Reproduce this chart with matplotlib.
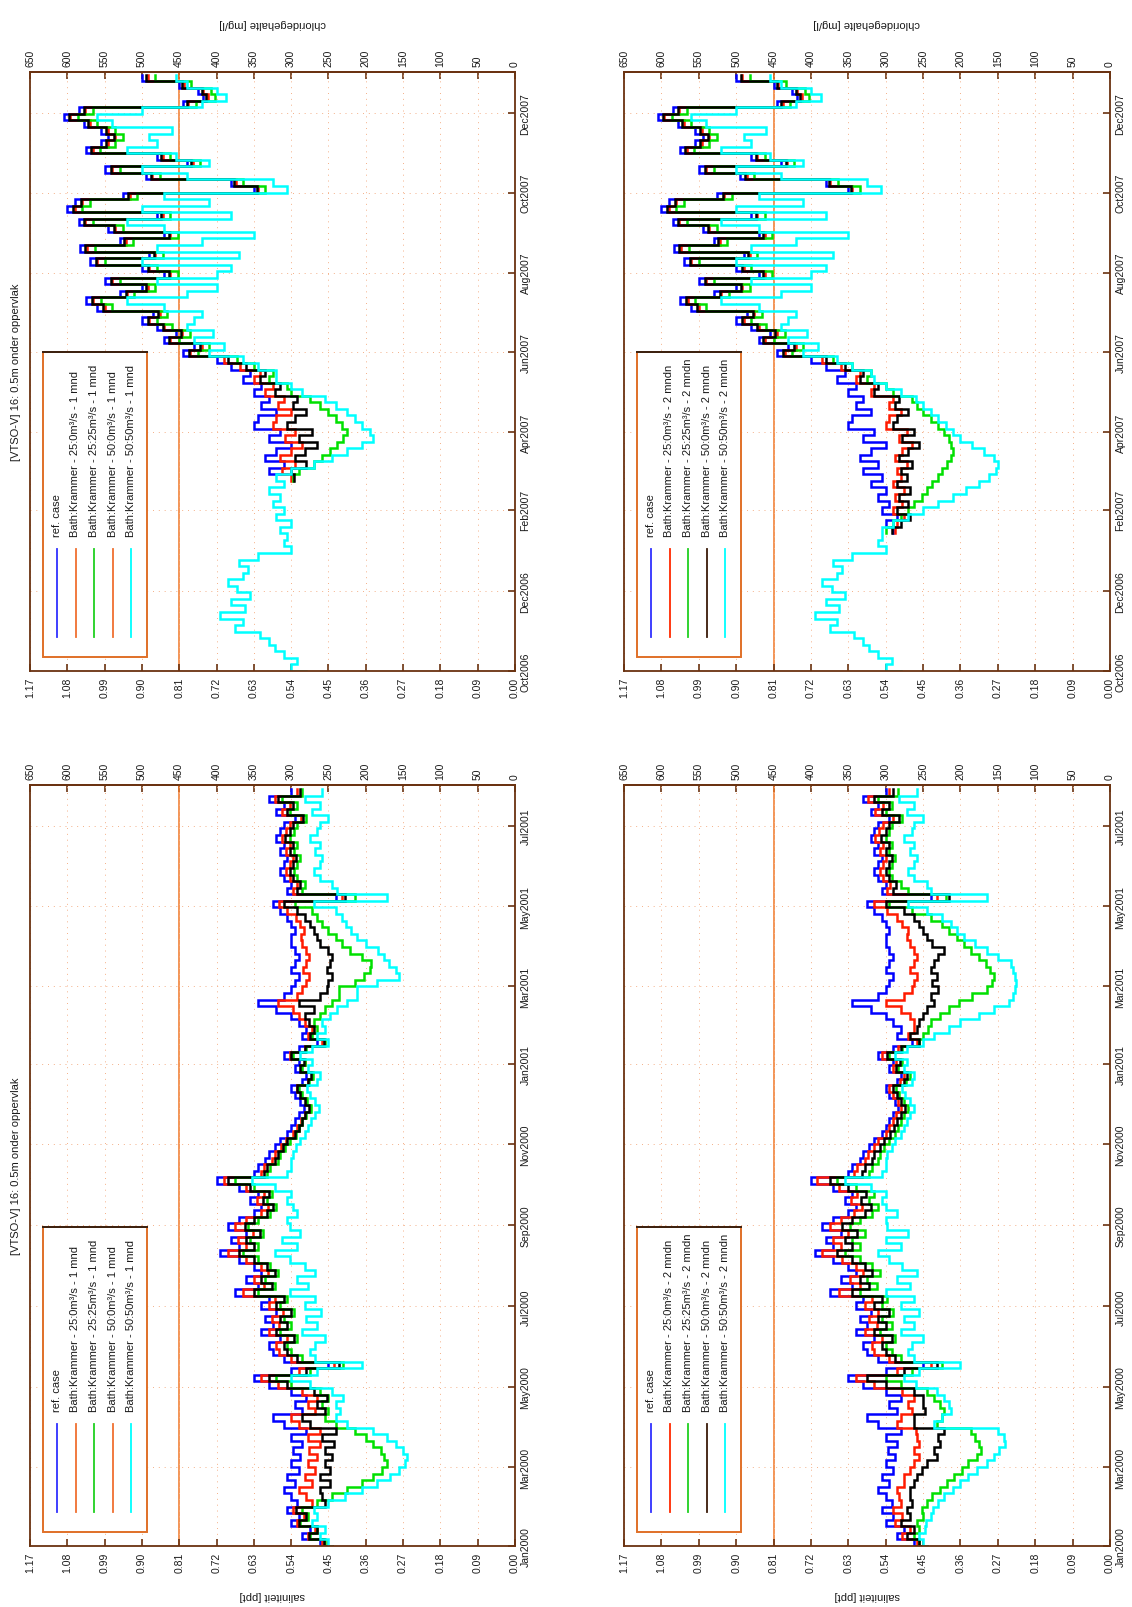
import numpy as np
import pandas as pd
import matplotlib
matplotlib.use("Agg")
import matplotlib.pyplot as plt
from matplotlib.patches import Rectangle
from matplotlib.lines import Line2D

plt.rcParams['font.family'] = ['Liberation Sans', 'DejaVu Sans']

# ---------------- data (chloride, mg/l) ----------------
sal_labels = ["1.17", "1.08", "0.99", "0.90", "0.81", "0.72", "0.63", "0.54",
              "0.45", "0.36", "0.27", "0.18", "0.09", "0.00"]
cl_ticks = [650, 600, 550, 500, 450, 400, 350, 300, 250, 200, 150, 100, 50, 0]
cl_labels = ["650", "600", "550", "500", "450", "400", "350", "300", "250",
             "200", "150", "100", "50", "0"]
norm_cl = 450

dates_2000_labels = ["Jan2000", "Mar2000", "May2000", "Jul2000", "Sep2000",
                     "Nov2000", "Jan2001", "Mar2001", "May2001", "Jul2001"]
dates_2007_labels = ["Oct2006", "Dec2006", "Feb2007", "Apr2007", "Jun2007",
                     "Aug2007", "Oct2007", "Dec2007"]

series_names = ["ref. case",
                "Bath:Krammer - 25:0m\u00b3/s",
                "Bath:Krammer - 25:25m\u00b3/s",
                "Bath:Krammer - 50:0m\u00b3/s",
                "Bath:Krammer - 50:50m\u00b3/s"]
suffix_1 = " - 1 mnd"
suffix_2 = " - 2 mndn"
title = "[VTSO-V] 16: 0.5m onder oppervlak"

# 2000-2001, every 5 days from 1 Jan 2000
ref_2000 = [245, 262, 285, 275, 300, 290, 305, 292, 300, 310,
            295, 305, 290, 300, 288, 297, 285, 300, 280, 310,
            325, 285, 295, 280, 300, 330, 350, 300, 250, 310,
            325, 330, 315, 340, 325, 335, 320, 340, 330, 375,
            345, 360, 340, 350, 370, 395, 370, 380, 360, 385,
            370, 350, 340, 355, 345, 370, 400, 350, 345, 335,
            330, 322, 315, 305, 300, 295, 290, 283, 288, 295,
            300, 285, 280, 295, 290, 310, 290, 265, 285, 280,
            290, 300, 320, 345, 310, 300, 295, 290, 300, 295,
            290, 295, 300, 300, 295, 300, 305, 315, 325, 240,
            305, 300, 310, 315, 310, 305, 315, 310, 320, 315,
            310, 295, 320, 310, 330, 300]

red_2000_1 = [245, 258, 278, 268, 292, 283, 297, 272, 280, 290,
              272, 282, 268, 278, 265, 276, 262, 278, 262, 290,
              300, 268, 278, 265, 285, 318, 340, 290, 242, 300,
              316, 320, 306, 330, 316, 326, 311, 330, 321, 364,
              336, 350, 331, 341, 360, 385, 361, 371, 351, 375,
              361, 341, 331, 346, 336, 361, 390, 341, 336, 326,
              322, 314, 307, 297, 292, 287, 282, 275, 280, 287,
              292, 277, 272, 287, 282, 302, 282, 258, 277, 272,
              282, 290, 298, 318, 292, 285, 280, 276, 284, 280,
              276, 280, 285, 287, 283, 288, 294, 305, 316, 232,
              297, 292, 302, 307, 302, 297, 307, 302, 312, 307,
              302, 287, 312, 302, 322, 292]
green_2000_1 = [245, 255, 275, 265, 288, 278, 285, 265, 245, 225,
                205, 190, 178, 172, 175, 180, 190, 200, 215, 240,
                255, 250, 258, 250, 262, 300, 320, 275, 230, 285,
                300, 305, 292, 315, 300, 310, 296, 315, 305, 345,
                322, 335, 318, 328, 345, 365, 345, 355, 338, 358,
                345, 328, 320, 333, 326, 350, 375, 332, 328, 318,
                315, 308, 302, 294, 289, 285, 280, 274, 279, 285,
                290, 276, 271, 286, 281, 298, 280, 255, 272, 265,
                270, 262, 255, 245, 236, 236, 215, 202, 195, 193,
                205, 221, 232, 240, 250, 258, 265, 272, 295, 215,
                285, 282, 292, 296, 292, 288, 296, 292, 302, 296,
                292, 280, 302, 292, 312, 285]
black_2000_1 = [245, 256, 276, 266, 290, 280, 294, 255, 258, 262,
                248, 262, 248, 255, 245, 255, 242, 258, 240, 275,
                285, 255, 265, 252, 270, 305, 330, 280, 236, 292,
                305, 310, 296, 320, 305, 315, 300, 320, 310, 350,
                326, 340, 322, 332, 350, 370, 350, 360, 342, 362,
                350, 332, 324, 338, 330, 355, 385, 336, 332, 322,
                318, 311, 305, 295, 290, 286, 281, 276, 281, 288,
                292, 278, 273, 288, 283, 300, 281, 256, 275, 270,
                276, 282, 270, 290, 262, 252, 250, 245, 252, 248,
                245, 250, 262, 265, 270, 275, 282, 292, 310, 228,
                292, 288, 298, 302, 298, 294, 302, 298, 308, 302,
                298, 284, 306, 298, 318, 288]
cyan_2000_1 = [245, 250, 262, 255, 272, 265, 270, 250, 228, 205,
               185, 168, 155, 148, 145, 150, 160, 172, 190, 225,
               240, 235, 240, 230, 245, 275, 300, 265, 205, 268,
               275, 268, 255, 285, 265, 280, 260, 282, 268, 302,
               278, 292, 268, 282, 302, 322, 292, 312, 288, 302,
               306, 292, 298, 306, 300, 322, 352, 306, 300, 300,
               298, 293, 288, 281, 277, 273, 268, 263, 268, 275,
               279, 266, 262, 277, 272, 288, 272, 250, 265, 255,
               258, 248, 238, 225, 212, 212, 185, 155, 160, 169,
               176, 183, 200, 212, 220, 226, 232, 240, 270, 172,
               238, 245, 262, 270, 262, 258, 268, 262, 275, 265,
               262, 250, 272, 262, 282, 258]

red_2000_2 = [245, 258, 278, 268, 288, 278, 290, 280, 282, 285,
              275, 275, 268, 262, 255, 262, 255, 258, 260, 285,
              280, 265, 270, 262, 278, 315, 340, 285, 240, 295,
              315, 318, 305, 328, 312, 322, 310, 328, 318, 362,
              335, 348, 330, 340, 358, 385, 360, 370, 350, 375,
              360, 342, 332, 346, 338, 362, 392, 342, 338, 328,
              324, 316, 310, 300, 295, 290, 286, 279, 284, 290,
              295, 281, 276, 290, 286, 305, 284, 258, 270, 262,
              262, 268, 280, 300, 275, 265, 262, 258, 268, 262,
              258, 262, 268, 272, 270, 278, 285, 298, 315, 232,
              298, 294, 304, 308, 304, 299, 308, 304, 314, 309,
              304, 290, 314, 304, 324, 295]
green_2000_2 = [245, 255, 262, 255, 258, 250, 252, 245, 238, 228,
                218, 208, 198, 190, 178, 172, 175, 180, 186, 232,
                225, 222, 228, 235, 245, 280, 300, 265, 225, 280,
                292, 300, 288, 308, 292, 305, 290, 305, 298, 335,
                312, 325, 308, 318, 335, 355, 335, 345, 328, 348,
                335, 318, 310, 322, 315, 340, 365, 322, 318, 310,
                308, 302, 296, 288, 284, 280, 276, 270, 275, 282,
                286, 273, 268, 283, 278, 296, 278, 255, 250, 244,
                240, 228, 215, 202, 185, 165, 158, 155, 160, 166,
                175, 186, 195, 205, 215, 225, 240, 265, 295, 220,
                270, 280, 292, 296, 292, 288, 296, 292, 300, 296,
                292, 278, 300, 292, 310, 284]
black_2000_2 = [245, 255, 272, 262, 280, 268, 272, 265, 268, 268,
                262, 258, 252, 245, 232, 235, 228, 230, 222, 262,
                262, 248, 250, 250, 262, 300, 325, 275, 232, 288,
                300, 305, 292, 315, 300, 310, 296, 315, 305, 345,
                322, 335, 318, 328, 345, 365, 345, 355, 338, 358,
                345, 328, 320, 333, 326, 350, 375, 332, 328, 318,
                315, 308, 302, 294, 289, 285, 280, 274, 279, 285,
                290, 276, 271, 286, 281, 298, 280, 255, 268, 258,
                255, 250, 245, 235, 240, 230, 238, 232, 240, 236,
                230, 222, 238, 245, 250, 255, 262, 275, 300, 215,
                290, 286, 296, 300, 296, 292, 300, 296, 306, 300,
                296, 282, 305, 296, 316, 290]
cyan_2000_2 = [245, 250, 255, 248, 246, 240, 237, 230, 222, 210,
               200, 190, 178, 165, 155, 148, 140, 142, 150, 235,
               225, 212, 215, 222, 232, 260, 275, 255, 200, 262,
               270, 265, 250, 280, 262, 275, 255, 280, 262, 300,
               268, 285, 258, 278, 295, 310, 280, 300, 270, 298,
               300, 285, 300, 305, 300, 320, 355, 305, 300, 300,
               298, 292, 288, 280, 276, 272, 268, 262, 267, 274,
               278, 265, 262, 276, 272, 288, 272, 250, 235, 215,
               200, 175, 155, 135, 130, 127, 126, 127, 130, 133,
               150, 165, 180, 195, 205, 212, 225, 245, 270, 165,
               240, 245, 262, 270, 262, 258, 268, 262, 275, 265,
               262, 250, 272, 262, 282, 258]

# 2006-2007, every 5 days from 1 Oct 2006 (None = not simulated)
ref_2007 = [None] * 22 + [
    290, 300, 285, 305, 295, 310, 300, 320, 305,
    330, 310, 335, 320, 300, 330, 315, 350, 345, 320,
    340, 330, 350, 340, 365, 355, 380, 400, 445, 430,
    470, 455, 480, 500, 485, 560, 575, 530, 500, 550,
    470, 500, 570, 490, 583, 530, 470, 545, 585, 480,
    600, 590, 525, 350, 380, 495, 550, 440, 480, 575,
    555, 545, 555, 578, 605, 585, 445, 418, 425, 450, 500]
ref_2007_first_1mnd = 30

cyan_2007_pre = [280, 300, 292, 310, 322, 330, 342, 375, 365, 395,
                 362, 380, 355, 372, 385, 365, 358, 370, 345, 300,
                 310, 305]
cyan_2007_post = [410, 390, 430, 405, 440, 430, 420, 470, 520, 440,
                  400, 480, 400, 380, 500, 370, 480, 420, 350, 470,
                  520, 380, 500, 410, 470, 306, 325, 440, 500, 410,
                  455, 520, 480, 490, 460, 540, 560, 500, 420, 387,
                  400, 440, 455]
red_2007_post = [435, 420, 462, 446, 470, 490, 476, 550, 565, 520,
                 492, 540, 462, 490, 560, 482, 574, 522, 462, 536,
                 576, 472, 590, 580, 516, 345, 374, 486, 540, 432,
                 472, 566, 546, 536, 546, 570, 596, 576, 438, 412,
                 418, 444, 492]
green_2007_post = [425, 410, 450, 435, 460, 480, 466, 540, 555, 510,
                   482, 530, 452, 480, 550, 472, 563, 512, 452, 525,
                   566, 462, 580, 570, 506, 335, 364, 476, 530, 422,
                   462, 556, 536, 526, 536, 560, 586, 566, 428, 402,
                   408, 434, 482]
black_2007_post = [437, 422, 464, 448, 472, 492, 478, 552, 567, 522,
                   494, 542, 464, 492, 562, 484, 576, 524, 464, 538,
                   578, 474, 592, 582, 518, 346, 376, 488, 542, 434,
                   474, 568, 548, 538, 548, 572, 598, 578, 440, 414,
                   420, 446, 494]

red_2007_1 = [None] * 30 + [300, 312, 295, 315, 300, 285, 308, 295, 325, 320,
                            300, 318, 310, 335, 325, 350, 342, 368, 390] + red_2007_post
green_2007_1 = [None] * 30 + [298, 290, 270, 258, 248, 238, 230, 225, 232, 240,
                              250, 262, 275, 300, 305, 330, 325, 350, 372] + green_2007_post
black_2007_1 = [None] * 30 + [296, 300, 280, 295, 282, 265, 290, 272, 305, 295,
                              280, 298, 292, 322, 315, 342, 335, 360, 385] + black_2007_post
cyan_2007_1 = cyan_2007_pre + [315, 300, 320, 310, 325, 315, 330, 310, 320,
                               300, 270, 245, 225, 205, 190, 195, 205, 215, 225,
                               240, 255, 285, 300, 320, 320, 345, 365] + cyan_2007_post

red_2007_2 = [None] * 22 + [288, 285, 275, 290, 278, 288, 275, 290, 280,
                            285, 272, 288, 278, 265, 282, 272, 300, 295, 280,
                            295, 290, 320, 315, 340, 335, 360, 385] + red_2007_post
green_2007_2 = [None] * 22 + [300, 290, 280, 270, 262, 252, 245, 238, 230,
                              225, 218, 212, 210, 212, 215, 222, 230, 240, 250,
                              258, 265, 290, 300, 325, 320, 345, 370] + green_2007_post
black_2007_2 = [None] * 22 + [292, 280, 268, 285, 270, 282, 268, 285, 272,
                              280, 265, 282, 270, 255, 278, 262, 290, 285, 270,
                              288, 282, 315, 310, 335, 330, 355, 380] + black_2007_post
cyan_2007_2 = cyan_2007_pre + [305, 290, 270, 250, 230, 210, 192, 175, 162,
                               152, 150, 155, 168, 185, 200, 210, 220, 230, 240,
                               250, 260, 280, 300, 315, 320, 345, 365] + cyan_2007_post

colors = ["#0000ff", "#ff1a00", "#00e000", "#000000", "#00ffff"]
legend_colors_1 = ["#3030ff", "#f07030", "#20d020", "#f07030", "#00ffff"]
legend_colors_2 = ["#3030ff", "#ff2a00", "#20d020", "#3a1a08", "#00ffff"]

# ---------------- layout ----------------
W, H = 1132, 1608
fig = plt.figure(figsize=(W / 100, H / 100), dpi=100)
SP = "#6a3210"       # spine colour
ORANGE = "#f07828"
TXT = "#1a1a1a"


def add_panel(x0, y0, x1, y1, start, end, tick_labels, series, first, suffix,
              leg_cols, show_title, show_sal_label, show_cl_label):
    ax = fig.add_axes([x0 / W, 1 - y1 / H, (x1 - x0) / W, (y1 - y0) / H])
    dates = pd.date_range(start, periods=len(series[0]), freq="5D")
    for vals, col, f in zip(series, colors, first):
        v = np.array(vals, dtype=float)
        ax.plot(v[f:], dates[f:], color=col, lw=1.8, drawstyle="steps-post",
                solid_joinstyle="miter")
    ax.axvline(norm_cl, color=ORANGE, lw=1.1, zorder=1)
    ax.set_xlim(650, 0)
    ax.set_ylim(pd.Timestamp(start), pd.Timestamp(end))
    ax.set_xticks(cl_ticks)
    ax.set_xticklabels(sal_labels, rotation=90, fontsize=7.5, color=TXT)
    tpos = [pd.to_datetime(t, format="%b%Y") for t in tick_labels]
    ax.set_yticks(tpos)
    ax.set_yticklabels(tick_labels, rotation=90, va="center", fontsize=7.5,
                       color=TXT)
    ax.yaxis.tick_right()
    ax.tick_params(axis="x", direction="in", length=5, width=1.2, color=SP,
                   pad=4, bottom=True, top=False)
    ax.tick_params(axis="y", direction="in", length=5, width=1.2, color=SP,
                   pad=4, left=False, right=True)
    sec = ax.secondary_xaxis("top")
    sec.set_xticks(cl_ticks)
    sec.set_xticklabels(cl_labels, rotation=90, fontsize=7.5, color=TXT)
    sec.tick_params(direction="in", length=5, width=1.2, color=SP, pad=4)
    for s in sec.spines.values():
        s.set_color(SP)
        s.set_linewidth(1.3)
    for s in ax.spines.values():
        s.set_color(SP)
        s.set_linewidth(1.3)
    ax.grid(True, color="#f4b088", linestyle=(0, (1, 5)), lw=0.7)

    # legend (drawn in figure pixels)
    bx0, bx1 = x0 + 13, x0 + 117
    by1 = y1 - 14
    by0 = by1 - 305
    fig.add_artist(Rectangle((bx0 / W, 1 - by1 / H), (bx1 - bx0) / W,
                             (by1 - by0) / H, transform=fig.transFigure,
                             facecolor="white", edgecolor="#e07028", lw=1.4,
                             zorder=5))
    fig.add_artist(Line2D([bx0 / W, bx1 / W], [1 - by0 / H, 1 - by0 / H],
                          transform=fig.transFigure, color="#3a2010", lw=1.4,
                          zorder=6))
    for i, (name, lc) in enumerate(zip(series_names, leg_cols)):
        lx = bx0 + 14 + i * 18.5
        fig.add_artist(Line2D([lx / W, lx / W], [1 - (by1 - 20) / H, 1 - (by1 - 108) / H],
                              transform=fig.transFigure, color=lc, lw=1.3,
                              zorder=6))
        label = name if i == 0 else name + suffix
        fig.text(lx / W, 1 - (by1 - 121) / H, label, rotation=90, ha="center",
                 va="bottom", fontsize=8, color=TXT, zorder=7)
    if show_title:
        fig.text(16 / W, 1 - ((y0 + y1) / 2) / H, title, rotation=90,
                 ha="center", va="center", fontsize=8, color=TXT)
    if show_sal_label:
        fig.text(((x0 + x1) / 2) / W, 1 - 1596 / H, "saliniteit [ppt]",
                 rotation=180, ha="center", va="center", fontsize=8, color=TXT)
    if show_cl_label:
        fig.text(((x0 + x1) / 2) / W, 1 - 24 / H, "chloridegehalte [mg/l]",
                 rotation=180, ha="center", va="center", fontsize=8, color=TXT)
    return ax


LX0, LX1 = 30, 515
RX0, RX1 = 624, 1110
TY0, TY1 = 73, 672
BY0, BY1 = 786, 1547

add_panel(LX0, BY0, LX1, BY1, "2000-01-01", "2001-08-01", dates_2000_labels,
          [ref_2000, red_2000_1, green_2000_1, black_2000_1, cyan_2000_1],
          [0, 0, 0, 0, 0], suffix_1, legend_colors_1, True, True, False)
add_panel(RX0, BY0, RX1, BY1, "2000-01-01", "2001-08-01", dates_2000_labels,
          [ref_2000, red_2000_2, green_2000_2, black_2000_2, cyan_2000_2],
          [0, 0, 0, 0, 0], suffix_2, legend_colors_2, False, True, False)
add_panel(LX0, TY0, LX1, TY1, "2006-10-01", "2008-01-01", dates_2007_labels,
          [ref_2007, red_2007_1, green_2007_1, black_2007_1, cyan_2007_1],
          [ref_2007_first_1mnd, 0, 0, 0, 0], suffix_1, legend_colors_1,
          True, False, True)
add_panel(RX0, TY0, RX1, TY1, "2006-10-01", "2008-01-01", dates_2007_labels,
          [ref_2007, red_2007_2, green_2007_2, black_2007_2, cyan_2007_2],
          [0, 0, 0, 0, 0], suffix_2, legend_colors_2, False, False, True)

fig.savefig("out.png", dpi=100, facecolor="white")
